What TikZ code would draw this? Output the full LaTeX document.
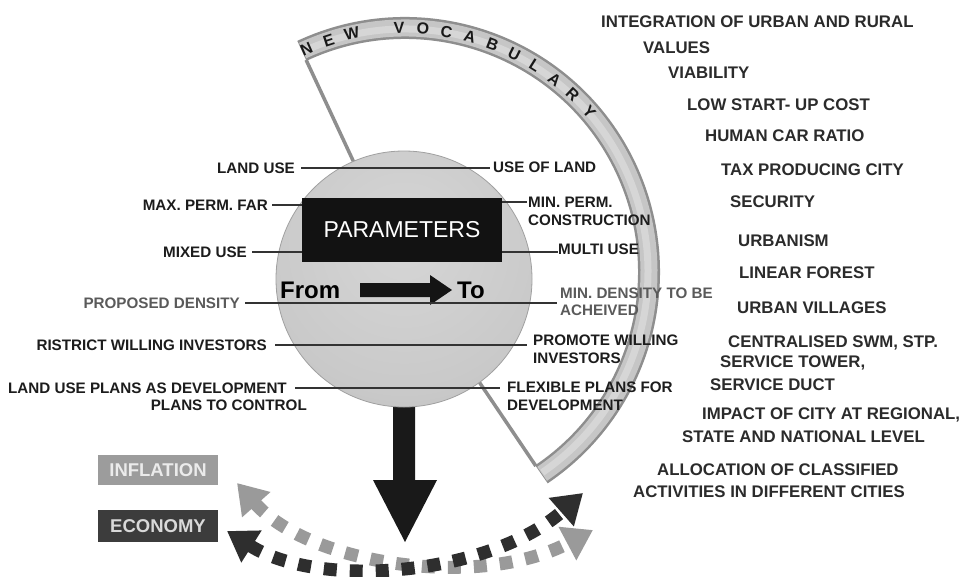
\documentclass[tikz,border=0pt]{standalone}
\usepackage{fontspec}
\setmainfont{Liberation Sans}
\usetikzlibrary{arrows.meta,calc}

\definecolor{labc}{HTML}{1C1C1C}
\definecolor{dimc}{HTML}{5A5A5A}
\definecolor{vocc}{HTML}{2B2B2B}
\definecolor{linec}{HTML}{333333}
\definecolor{bandedge}{HTML}{8E8E8E}
\definecolor{bandfill}{HTML}{C6C6C6}
\definecolor{bandhi}{HTML}{D6D6D6}
\definecolor{dA}{HTML}{D6D6D6}
\definecolor{dB}{HTML}{C9C9C9}
\definecolor{dC}{HTML}{B9B9B9}
\definecolor{dD}{HTML}{A0A0A0}
\definecolor{inflc}{HTML}{9C9C9C}
\definecolor{econc}{HTML}{3C3C3C}
\definecolor{lightsq}{HTML}{9A9A9A}
\definecolor{darksq}{HTML}{2E2E2E}

% soft spherical look for the central disc
\pgfdeclareradialshading{discshade}{\pgfpoint{0bp}{8bp}}{%
  color(0bp)=(dA); color(28bp)=(dB); color(44bp)=(dC); color(52bp)=(dD); color(100bp)=(dD)}

\tikzset{
  lab/.style={font=\fontsize{15.2}{17}\selectfont\bfseries, text=labc, inner sep=0pt},
  labL/.style={lab, anchor=east},
  labR/.style={lab, anchor=west},
  voc/.style={font=\fontsize{16.8}{19}\selectfont\bfseries, text=vocc, inner sep=0pt, anchor=west},
  conn/.style={draw=linec, line width=1.6pt, shorten <=6pt, shorten >=3pt},
  bandletter/.style={font=\fontsize{16}{18}\selectfont\bfseries, text=black!90, inner sep=0pt},
  spoke/.style={draw=bandedge, line width=3.5pt},
  disc/.style={circle, minimum size=256pt, inner sep=0pt, shading=discshade, draw=dD, line width=0.8pt},
  keybox/.style={minimum width=120pt, inner sep=0pt, font=\fontsize{18.5}{20}\selectfont\bfseries},
  dotarc/.style={line width=13pt, dash pattern=on 13pt off 13pt,
    {Triangle[length=29pt,width=36pt]}-{Triangle[length=29pt,width=36pt]}},
  ftword/.style={font=\fontsize{24}{26}\selectfont\bfseries, text=black, inner sep=0pt}
}

\begin{document}
\begin{tikzpicture}[x=1pt,y=-1pt]
\useasboundingbox[fill=white] (0,0) rectangle (969,576);

% ---- "new vocabulary" sector behind the disc ----
\coordinate (vc) at (405,272);
\coordinate (vs) at ({405+234*cos(115)},{272-234*sin(115)});
\coordinate (ve) at ({405+234*cos(-56)},{272-234*sin(-56)});
\draw[spoke] (vs) -- (vc);
\draw[spoke] (ve) -- (vc);
\draw[draw=bandedge, line width=22pt] ({405+244*cos(115)},{272-244*sin(115)}) arc[start angle=-115, end angle=56, radius=244];
\draw[draw=bandfill, line width=17pt] ({405+244*cos(114.8)},{272-244*sin(114.8)}) arc[start angle=-114.8, end angle=55.8, radius=244];
\draw[draw=bandhi, line width=7pt] ({405+243*cos(114.6)},{272-243*sin(114.6)}) arc[start angle=-114.6, end angle=55.6, radius=243];
\foreach \ch/\a [count=\i] in {N/113.8, E/108.2, W/102.6, V/91.4, O/85.8, C/80.2, A/74.6, B/69, U/63.4, L/57.8, A/52.2, R/46.6, Y/41}
  \node[bandletter, rotate=\a-90] (nv\i) at ({405+244*cos(\a)},{272-244*sin(\a)}) {\ch};

% ---- downward result arrow ----
\fill[black!90] (393,380) -- (415,380) -- (415,480) -- (437,480) -- (405,542) -- (373,480) -- (393,480) -- cycle;

% ---- central disc ----
\node[disc] (c) at (404,279) {};
\node[fill=black!93, minimum width=200pt, minimum height=64pt, inner sep=0pt,
      text=white, font=\fontsize{23}{25}\selectfont] (par) at (402,230) {PARAMETERS};
\node[ftword, anchor=west] (from) at (280,290) {From};
\node[ftword, anchor=west] (to) at (457,290) {To};
\fill[black!92] (360,283) -- (430,283) -- (430,275) -- (452,290) -- (430,305) -- (430,297) -- (360,297) -- cycle;

% ---- left labels ----
\node[labL] (lu)  at (295,168) {LAND USE};
\node[labL] (mpf) at (268,205) {MAX. PERM. FAR};
\node[labL] (mx)  at (247,252) {MIXED USE};
\node[labL, text=dimc] (pd) at (240,303) {PROPOSED DENSITY};
\node[labL] (rw)  at (267,345) {RISTRICT WILLING INVESTORS};
\node[labL] (lp1) at (287,388) {LAND USE PLANS AS DEVELOPMENT};
\node[labL] (lp2) at (307,405) {PLANS TO CONTROL};

% ---- right labels ----
\node[labR] (ul)  at (493,167) {USE OF LAND};
\node[labR] (mp1) at (528,202) {MIN. PERM.};
\node[labR] (mp2) at (528,220) {CONSTRUCTION};
\node[labR] (mu)  at (558,249) {MULTI USE};
\node[labR, text=dimc] (md1) at (560,293) {MIN. DENSITY TO BE};
\node[labR, text=dimc] (md2) at (560,310) {ACHEIVED};
\node[labR] (pw1) at (533,340) {PROMOTE WILLING};
\node[labR] (pw2) at (533,358) {INVESTORS};
\node[labR] (fp1) at (507,387) {FLEXIBLE PLANS FOR};
\node[labR] (fp2) at (507,405) {DEVELOPMENT};

% ---- connectors ----
\draw[conn] (lu.east) -- (ul.west |- lu.east);
\draw[conn, shorten <=4pt, shorten >=0pt] (mpf.east) -- (par.west |- mpf.east);
\draw[conn, shorten <=5pt, shorten >=0pt] (mx.east) -- (par.west |- mx.east);
\draw[conn, shorten <=0pt, shorten >=1pt] (par.east |- mp1.west) -- (mp1.west);
\draw[conn, shorten <=0pt, shorten >=0pt] (par.east |- 0,252) -- (mu.west |- 0,252);
\draw[conn, shorten <=5pt] (pd.east) -- (md1.west |- pd.east);
\draw[conn, shorten <=8pt, shorten >=6pt] (rw.east) -- (pw1.west |- rw.east);
\draw[conn, shorten <=8pt, shorten >=7pt] (lp1.east) -- (fp1.west |- lp1.east);

% ---- new vocabulary list ----
\node[voc] (v1)  at (601,22)  {INTEGRATION OF URBAN AND RURAL};
\node[voc] (v2)  at (643,48)  {VALUES};
\node[voc] (v3)  at (668,73)  {VIABILITY};
\node[voc] (v4)  at (687,105) {LOW START- UP COST};
\node[voc] (v5)  at (705,136) {HUMAN CAR RATIO};
\node[voc] (v6)  at (721,170) {TAX PRODUCING CITY};
\node[voc] (v7)  at (730,202) {SECURITY};
\node[voc] (v8)  at (738,241) {URBANISM};
\node[voc] (v9)  at (739,273) {LINEAR FOREST};
\node[voc] (v10) at (737,308) {URBAN VILLAGES};
\node[voc] (v11) at (728,343) {CENTRALISED SWM, STP.};
\node[voc] (v12) at (720,363) {SERVICE TOWER,};
\node[voc] (v13) at (710,385) {SERVICE DUCT};
\node[voc] (v14) at (702,415) {IMPACT OF CITY AT REGIONAL,};
\node[voc] (v15) at (682,437) {STATE AND NATIONAL LEVEL};
\node[voc] (v16) at (657,470) {ALLOCATION OF CLASSIFIED};
\node[voc] (v17) at (633,492) {ACTIVITIES IN DIFFERENT CITIES};

% ---- key boxes ----
\node[keybox, fill=inflc, minimum height=30pt, text=white!92!black] (inf) at (158,470) {INFLATION};
\node[keybox, fill=econc, minimum height=32pt, text=white!85!black] (eco) at (158,526) {ECONOMY};

% ---- crossing dotted swings ----
\coordinate (la) at (237,483);
\coordinate (lb) at (593,530);
\coordinate (da) at (227,531);
\coordinate (db) at (583,493);
\draw[dotarc, draw=lightsq] (la) .. controls (310,565) and (480,590) .. (lb);
\draw[dotarc, draw=darksq] (da) .. controls (320,590) and (490,575) .. (db);
\end{tikzpicture}
\end{document}
